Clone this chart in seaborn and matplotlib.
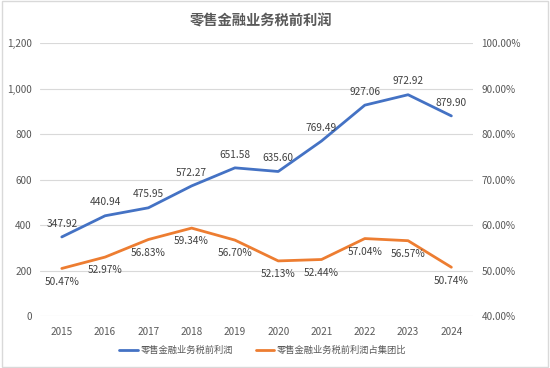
import numpy as np
import pandas as pd
import matplotlib.pyplot as plt
import seaborn as sns
from matplotlib.ticker import FuncFormatter

years = ['2015', '2016', '2017', '2018', '2019', '2020', '2021', '2022', '2023', '2024']
profit = [347.92, 440.94, 475.95, 572.27, 651.58, 635.60, 769.49, 927.06, 972.92, 879.90]
share = [50.47, 52.97, 56.83, 59.34, 56.70, 52.13, 52.44, 57.04, 56.57, 50.74]

sns.set_style('white')
plt.rcParams['font.family'] = ['Noto Sans CJK SC', 'DejaVu Sans']

blue = '#4472C4'
orange = '#ED7D31'
grey = '#595959'

df = pd.DataFrame({'year': years, 'profit': profit, 'share': share})
df['pos'] = np.arange(len(years))

fig = plt.figure(figsize=(5.5, 3.68), dpi=100)
ax = fig.add_axes([0.073, 0.141, 0.787, 0.742])
ax2 = ax.twinx()

sns.lineplot(data=df, x='pos', y='profit', ax=ax, color=blue, linewidth=2,
             label='零售金融业务税前利润', legend=False)
sns.lineplot(data=df, x='pos', y='share', ax=ax2, color=orange, linewidth=2,
             label='零售金融业务税前利润占集团比', legend=False)

ax.set_xlim(-0.5, len(years) - 0.5)
ax.set_ylim(0, 1200)
ax.set_yticks(range(0, 1201, 200))
ax.yaxis.set_major_formatter(FuncFormatter(lambda v, p: f'{int(v):,}'))
ax2.set_ylim(40, 100)
ax2.set_yticks(range(40, 101, 10))
ax2.yaxis.set_major_formatter(FuncFormatter(lambda v, p: f'{v:.2f}%'))
ax.set_xticks(df['pos'])
ax.set_xticklabels(years)
ax.grid(axis='y', color='#D9D9D9', linewidth=0.8)
ax.set_axisbelow(True)
ax.set_xlabel('')
ax.set_ylabel('')
ax2.set_ylabel('')
for a in (ax, ax2):
    for s in a.spines.values():
        s.set_visible(False)
    a.tick_params(length=0, labelsize=7.2, colors=grey, pad=6)
ax.tick_params(axis='x', pad=8)

for i, v in enumerate(profit):
    ax.annotate(f'{v:.2f}', (i, v), xytext=(0, 6), textcoords='offset points',
                ha='center', va='bottom', fontsize=7.3, color='#404040')
for i, v in enumerate(share):
    ax2.annotate(f'{v:.2f}%', (i, v), xytext=(0, -6), textcoords='offset points',
                 ha='center', va='top', fontsize=7.3, color='#404040')

fig.suptitle('零售金融业务税前利润', x=0.475, y=0.96, fontsize=10.3, fontweight='bold', color=grey)

h1, l1 = ax.get_legend_handles_labels()
h2, l2 = ax2.get_legend_handles_labels()
fig.legend(h1 + h2, l1 + l2, loc='center', bbox_to_anchor=(0.478, 0.047), ncol=2,
           frameon=False, fontsize=6.7, labelcolor=grey, handlelength=2.0,
           columnspacing=2.4, handletextpad=0.3)

fig.patches.append(plt.Rectangle((0.003, 0.003), 0.994, 0.994, transform=fig.transFigure,
                                 fill=False, edgecolor='#D9D9D9', linewidth=1))

fig.savefig('out.png', dpi=100)
